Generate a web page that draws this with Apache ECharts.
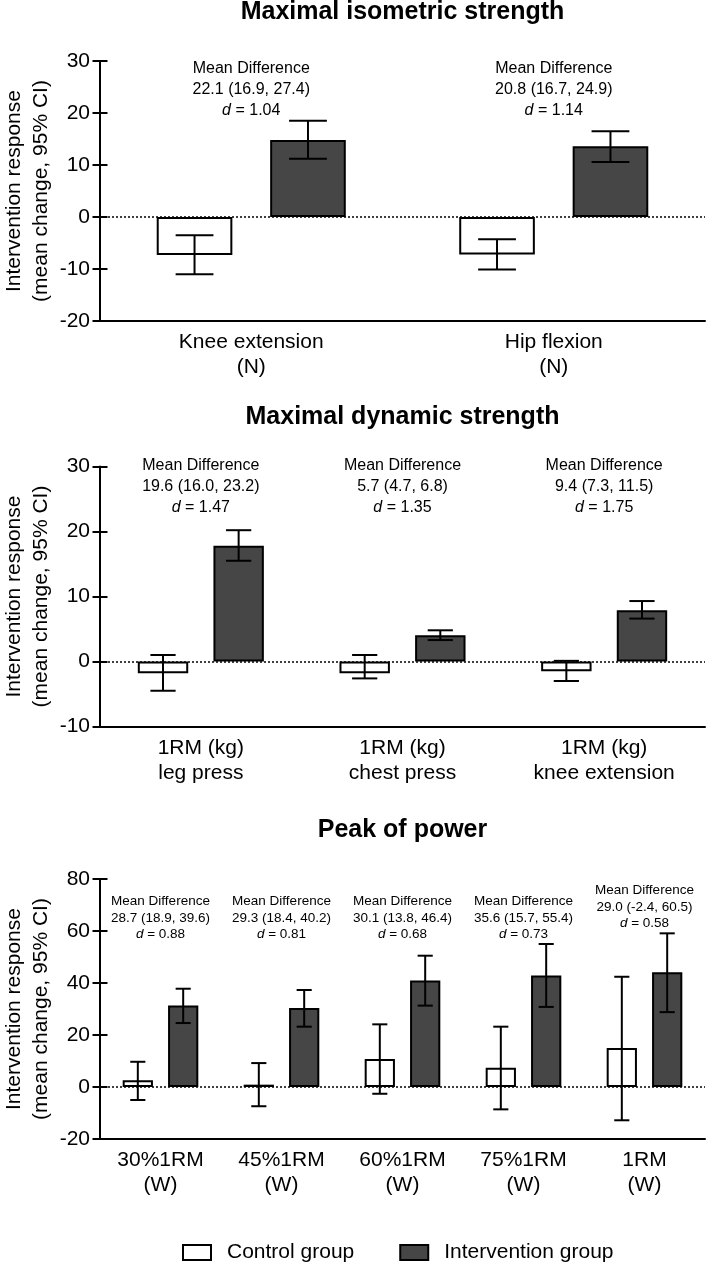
<!DOCTYPE html>
<html>
<head>
<meta charset="utf-8">
<script src="https://cdn.jsdelivr.net/npm/echarts@6/dist/echarts.min.js"></script>
<style>
html,body{margin:0;padding:0;background:#fff;}
#chart{width:709px;height:1267px;}
</style>
</head>
<body>
<div id="chart"></div>
<script>
// ---------- DATA ----------
const seriesNames = ['Control group', 'Intervention group'];
const panelTitles = ['Maximal isometric strength', 'Maximal dynamic strength', 'Peak of power'];
const yAxisName = 'Intervention response\n(mean change, 95% CI)';

// Panel 1: Maximal isometric strength
const p1Categories = ['Knee extension\n(N)', 'Hip flexion\n(N)'];
const p1Control = [-7.3, -7.2];
const p1ControlLo = [-11.0, -10.1];
const p1ControlHi = [-3.5, -4.3];
const p1Intervention = [14.8, 13.6];
const p1InterventionLo = [11.2, 10.6];
const p1InterventionHi = [18.5, 16.5];
const p1MeanDiff = ['22.1 (16.9, 27.4)', '20.8 (16.7, 24.9)'];
const p1D = ['1.04', '1.14'];
const p1Y = { min: -20, max: 30, interval: 10 };

// Panel 2: Maximal dynamic strength
const p2Categories = ['1RM (kg)\nleg press', '1RM (kg)\nchest press', '1RM (kg)\nknee extension'];
const p2Control = [-1.8, -1.8, -1.5];
const p2ControlLo = [-4.5, -2.6, -3.0];
const p2ControlHi = [1.0, 1.0, 0.1];
const p2Intervention = [17.8, 4.05, 7.9];
const p2InterventionLo = [15.5, 3.3, 6.6];
const p2InterventionHi = [20.2, 4.8, 9.3];
const p2MeanDiff = ['19.6 (16.0, 23.2)', '5.7 (4.7, 6.8)', '9.4 (7.3, 11.5)'];
const p2D = ['1.47', '1.35', '1.75'];
const p2Y = { min: -10, max: 30, interval: 10 };

// Panel 3: Peak of power
const p3Categories = ['30%1RM\n(W)', '45%1RM\n(W)', '60%1RM\n(W)', '75%1RM\n(W)', '1RM\n(W)'];
const p3Control = [2.6, 0.9, 10.8, 7.4, 15.0];
const p3ControlLo = [-5.0, -7.4, -2.6, -8.6, -12.8];
const p3ControlHi = [9.7, 9.2, 24.1, 23.2, 42.4];
const p3Intervention = [31.3, 30.4, 41.0, 42.9, 44.1];
const p3InterventionLo = [24.6, 23.2, 31.3, 30.8, 28.8];
const p3InterventionHi = [37.8, 37.3, 50.5, 55.0, 59.1];
const p3MeanDiff = ['28.7 (18.9, 39.6)', '29.3 (18.4, 40.2)', '30.1 (13.8, 46.4)', '35.6 (15.7, 55.4)', '29.0 (-2.4, 60.5)'];
const p3D = ['0.88', '0.81', '0.68', '0.73', '0.58'];
const p3Y = { min: -20, max: 80, interval: 20 };

// ---------- LAYOUT / STYLE ----------
const FONT = '"Liberation Sans", Arial, Helvetica, sans-serif';
const GRID_LEFT = 100, GRID_RIGHT = 4, GRID_H = 260;
const gridTops = [61, 466.5, 879];
const titleY = [12, 417, 830];
const annotY = [[90, 90], [487, 487, 487], [918, 918, 918, 918, 907]];
const annotFont = [{ size: 16, lh: 21 }, { size: 16, lh: 21 }, { size: 13.5, lh: 16.7 }];
const BAR_FRAC = 0.25, BAR_GAP = 0.5;
const CONTROL_FILL = '#ffffff', INTERV_FILL = '#464646';
const AXIS_W = 2, TICK_LEN = 7.5;

const panels = [
  { cats: p1Categories, c: p1Control, cLo: p1ControlLo, cHi: p1ControlHi, t: p1Intervention, tLo: p1InterventionLo, tHi: p1InterventionHi, md: p1MeanDiff, d: p1D, y: p1Y },
  { cats: p2Categories, c: p2Control, cLo: p2ControlLo, cHi: p2ControlHi, t: p2Intervention, tLo: p2InterventionLo, tHi: p2InterventionHi, md: p2MeanDiff, d: p2D, y: p2Y },
  { cats: p3Categories, c: p3Control, cLo: p3ControlLo, cHi: p3ControlHi, t: p3Intervention, tLo: p3InterventionLo, tHi: p3InterventionHi, md: p3MeanDiff, d: p3D, y: p3Y }
];

function renderErr(params, api) {
  const ci = api.value(0), grp = api.value(1), lo = api.value(2), hi = api.value(3);
  const band = api.coord([1, 0])[0] - api.coord([0, 0])[0];
  const bw = band * BAR_FRAC;
  const off = (grp === 0 ? -1 : 1) * bw * (1 + BAR_GAP) / 2;
  const pt = api.coord([ci, hi]);
  const pb = api.coord([ci, lo]);
  const x = pt[0] + off;
  const half = bw / 4;
  const st = { stroke: '#000', lineWidth: 2 };
  return {
    type: 'group',
    children: [
      { type: 'line', shape: { x1: x, y1: pt[1], x2: x, y2: pb[1] }, style: st },
      { type: 'line', shape: { x1: x - half, y1: pt[1], x2: x + half, y2: pt[1] }, style: st },
      { type: 'line', shape: { x1: x - half, y1: pb[1], x2: x + half, y2: pb[1] }, style: st }
    ]
  };
}

const grids = [], xAxes = [], yAxes = [], series = [];
const xAxesInner = [], yAxesInner = [];
panels.forEach(function (p, i) {
  grids.push({ left: GRID_LEFT, right: GRID_RIGHT, top: gridTops[i], height: GRID_H, containLabel: false, outerBoundsMode: 'none' });
  xAxes.push({
    type: 'category', gridIndex: i, data: p.cats, position: 'bottom',
    axisLine: { onZero: false, lineStyle: { color: '#000', width: AXIS_W } },
    axisTick: { alignWithLabel: true, length: TICK_LEN, lineStyle: { color: '#000', width: AXIS_W } },
    axisLabel: { interval: 0, color: '#000', fontSize: 21, lineHeight: 25, margin: 9, fontFamily: FONT },
    splitLine: { show: false }
  });
  // same axis again, only to draw the inner half of each tick (ticks cross the axis)
  xAxesInner.push({
    type: 'category', gridIndex: i, data: p.cats, position: 'bottom',
    axisLine: { show: false, onZero: false },
    axisTick: { inside: true, alignWithLabel: true, length: TICK_LEN, lineStyle: { color: '#000', width: AXIS_W } },
    axisLabel: { show: false }, splitLine: { show: false }
  });
  yAxes.push({
    type: 'value', gridIndex: i, min: p.y.min, max: p.y.max, interval: p.y.interval, position: 'left',
    name: yAxisName, nameLocation: 'middle', nameRotate: 90, nameGap: 45, nameMoveOverlap: false,
    nameTextStyle: { color: '#000', fontSize: 21, lineHeight: 27, fontFamily: FONT },
    axisLine: { show: true, lineStyle: { color: '#000', width: AXIS_W } },
    axisTick: { show: true, length: TICK_LEN, lineStyle: { color: '#000', width: AXIS_W } },
    axisLabel: { color: '#000', fontSize: 21, margin: 10, fontFamily: FONT },
    splitLine: { show: false }
  });
  yAxesInner.push({
    type: 'value', gridIndex: i, min: p.y.min, max: p.y.max, interval: p.y.interval, position: 'left',
    axisLine: { show: false },
    axisTick: { show: true, inside: true, length: TICK_LEN, lineStyle: { color: '#000', width: AXIS_W } },
    axisLabel: { show: false }, splitLine: { show: false }
  });
  series.push({
    name: seriesNames[0], type: 'bar', xAxisIndex: i, yAxisIndex: i, data: p.c,
    barWidth: (BAR_FRAC * 100) + '%', barGap: (BAR_GAP * 100) + '%',
    itemStyle: { color: CONTROL_FILL, borderColor: '#000', borderWidth: 2 },
    emphasis: { disabled: true }, z: 2
  });
  series.push({
    name: seriesNames[1], type: 'bar', xAxisIndex: i, yAxisIndex: i, data: p.t,
    barWidth: (BAR_FRAC * 100) + '%', barGap: (BAR_GAP * 100) + '%',
    itemStyle: { color: INTERV_FILL, borderColor: '#000', borderWidth: 2 },
    emphasis: { disabled: true }, z: 2,
    markLine: {
      silent: true, symbol: ['none', 'none'], label: { show: false },
      lineStyle: { color: '#000', type: [2, 2], width: 1.5 },
      data: [{ yAxis: 0 }], z: 4
    }
  });
  const errData = [];
  p.cats.forEach(function (c, k) {
    errData.push([k, 0, p.cLo[k], p.cHi[k]]);
    errData.push([k, 1, p.tLo[k], p.tHi[k]]);
  });
  series.push({
    name: 'err' + i, type: 'custom', xAxisIndex: i, yAxisIndex: i, data: errData,
    encode: { x: 0, y: [2, 3] }, renderItem: renderErr, z: 5, silent: true
  });
});

const chart = echarts.init(document.getElementById('chart'), null, { renderer: 'canvas' });
chart.setOption({
  animation: false,
  backgroundColor: '#fff',
  textStyle: { fontFamily: FONT },
  grid: grids,
  xAxis: xAxes.concat(xAxesInner),
  yAxis: yAxes.concat(yAxesInner),
  series: series,
  legend: {
    data: seriesNames, left: 182, top: 1242, padding: 0, itemWidth: 28, itemHeight: 15, itemGap: 45,
    icon: 'rect', selectedMode: false,
    textStyle: { color: '#000', fontSize: 21, fontFamily: FONT, padding: [0, 0, 0, 11] }
  }
});

// titles & annotations
const graphics = [];
const gridCenterX = GRID_LEFT + (709 - GRID_LEFT - GRID_RIGHT) / 2;
panelTitles.forEach(function (t, i) {
  graphics.push({
    type: 'text', x: gridCenterX, y: titleY[i], silent: true,
    style: { text: t, fill: '#000', font: 'bold 25px ' + FONT, align: 'center', verticalAlign: 'middle' }
  });
});
panels.forEach(function (p, i) {
  const f = annotFont[i];
  p.cats.forEach(function (c, k) {
    const px = chart.convertToPixel({ gridIndex: i }, [k, 0]);
    graphics.push({
      type: 'text', x: px[0], y: annotY[i][k], silent: true,
      style: {
        text: '{a|Mean Difference}\n{a|' + p.md[k] + '}\n{i|d}{a| = ' + p.d[k] + '}',
        align: 'center', verticalAlign: 'middle', fill: '#000',
        rich: {
          a: { fontSize: f.size, lineHeight: f.lh, fontFamily: FONT, fill: '#000' },
          i: { fontSize: f.size, lineHeight: f.lh, fontFamily: FONT, fontStyle: 'italic', fill: '#000' }
        }
      }
    });
  });
});
chart.setOption({ graphic: graphics });
</script>
</body>
</html>
